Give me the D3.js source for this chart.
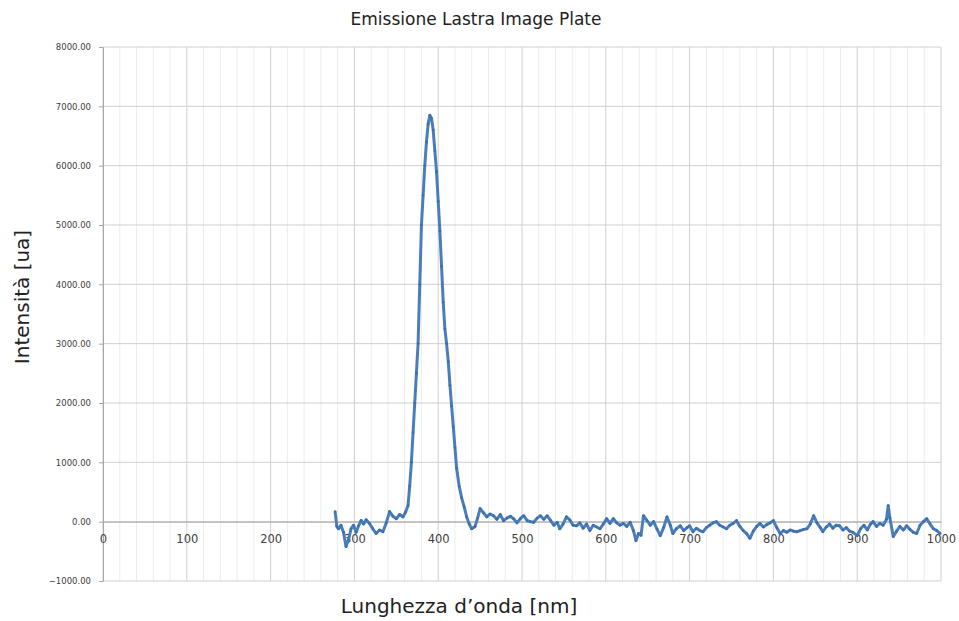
<!DOCTYPE html>
<html>
<head>
<meta charset="utf-8">
<script src="https://cdn.jsdelivr.net/npm/d3@7"></script>
<style>
  body { margin: 0; background: #fff; }
  text { font-family: "DejaVu Sans", sans-serif; }
  .grid-minor line { stroke: #ececec; }
  .grid-major line { stroke: #cfcfcf; }
  .axis path, .axis line { stroke: #a6a6a6; }
  .axis text { fill: #404040; }
</style>
</head>
<body>
<div id="chart"></div>
<script>
var W = 959, H = 621;
var margin = {top: 47, right: 18, bottom: 40, left: 103};

// wavelength [nm], 10 per row
var wavelength = [
  277, 279, 281, 284, 287, 290, 293, 296, 299, 302,
  305, 308, 311, 314, 318, 322, 326, 330, 334, 338,
  342, 346, 350, 354, 358, 361, 364, 366, 368, 370,
  372, 374, 376, 378, 380, 382, 384, 386, 388, 390,
  392, 394, 396, 398, 400, 402, 404, 406, 408, 410,
  412, 414, 416, 418, 420, 422, 425, 428, 431, 434,
  437, 440, 444, 447, 450, 454, 458, 462, 466, 470,
  474, 478, 482, 486, 490, 494, 498, 502, 506, 510,
  514, 518, 522, 526, 530, 534, 538, 542, 545, 549,
  553, 557, 561, 565, 569, 573, 577, 581, 585, 589,
  593, 597, 601, 605, 609, 613, 617, 621, 625, 629,
  633, 636, 639, 642, 645, 649, 653, 657, 661, 665,
  669, 673, 677, 680, 684, 689, 693, 697, 700, 704,
  708, 712, 716, 720, 724, 728, 732, 736, 740, 744,
  748, 752, 756, 760, 764, 768, 772, 776, 780, 784,
  788, 792, 796, 800, 804, 808, 812, 816, 820, 824,
  828, 832, 836, 840, 844, 848, 852, 856, 859, 863,
  867, 871, 875, 879, 883, 887, 891, 895, 900, 904,
  908, 912, 916, 919, 923, 927, 931, 935, 937, 939,
  943, 947, 951, 955, 959, 963, 967, 971, 975, 979,
  983, 987, 991, 995, 999
];
// intensity [ua], 10 per row
var intensity = [
  170, -80, -120, -60, -180, -420, -300, -120, -60, -180,
  -70, 20, -40, 30, -30, -120, -200, -140, -170, -20,
  170, 90, 50, 120, 80, 160, 270, 600, 1000, 1500,
  2000, 2500, 3000, 4000, 5000, 5500, 6000, 6400, 6700, 6850,
  6800, 6600, 6250, 5900, 5400, 4900, 4300, 3700, 3250, 3000,
  2700, 2300, 1950, 1600, 1250, 900, 600, 400, 250, 80,
  -40, -120, -80, 60, 220, 150, 80, 130, 100, 40,
  120, 17, 60, 90, 50, -20, 50, 100, 20, 0,
  -10, 60, 100, 40, 100, 20, -60, -10, -120, -40,
  80, 30, -60, -70, -20, -110, -40, -150, -60, -90,
  -120, -40, 50, -30, 50, -20, -60, -30, -80, -10,
  -150, -320, -200, -230, 100, 20, -60, 0, -120, -235,
  -100, 80, -60, -200, -120, -70, -150, -100, -70, -170,
  -110, -150, -170, -100, -60, -20, 0, -60, -90, -120,
  -60, -30, 17, -80, -150, -200, -280, -160, -80, -30,
  -90, -50, -20, 17, -100, -200, -150, -180, -140, -160,
  -170, -150, -130, -120, -40, 100, -20, -100, -170, -90,
  -40, -110, -60, -70, -140, -100, -160, -180, -235, -120,
  -60, -140, -40, 0, -80, -30, -60, 40, 270, 60,
  -250, -160, -80, -140, -70, -130, -180, -200, -60, 0,
  50, -40, -120, -150, -200
];

var xTicks = [0, 100, 200, 300, 400, 500, 600, 700, 800, 900, 1000];
var yTicks = [-1000, 0, 1000, 2000, 3000, 4000, 5000, 6000, 7000, 8000];

var series = wavelength.map(function(w, i) { return {w: w, v: intensity[i]}; });

var svg = d3.select("#chart").append("svg")
  .attr("width", W)
  .attr("height", H);

var x = d3.scaleLinear().domain([0, 1000]).range([margin.left, W - margin.right]);
var y = d3.scaleLinear().domain([-1000, 8000]).range([H - margin.bottom, margin.top]);

// minor vertical grid every 20 nm
svg.append("g").attr("class", "grid-minor")
  .selectAll("line")
  .data(d3.range(0, 1001, 20).filter(function(d) { return d % 100 !== 0; }))
  .enter().append("line")
  .attr("x1", function(d) { return x(d); })
  .attr("x2", function(d) { return x(d); })
  .attr("y1", y(8000))
  .attr("y2", y(-1000));

// major grid
var gMaj = svg.append("g").attr("class", "grid-major");
gMaj.selectAll(".vx")
  .data(xTicks)
  .enter().append("line")
  .attr("class", "vx")
  .attr("x1", function(d) { return x(d); })
  .attr("x2", function(d) { return x(d); })
  .attr("y1", y(8000))
  .attr("y2", y(-1000));
gMaj.selectAll(".hy")
  .data(yTicks)
  .enter().append("line")
  .attr("class", "hy")
  .attr("x1", x(0))
  .attr("x2", x(1000))
  .attr("y1", function(d) { return y(d); })
  .attr("y2", function(d) { return y(d); });

// y axis
var yAxis = d3.axisLeft(y)
  .tickValues(yTicks)
  .tickFormat(d3.format(".2f"))
  .tickSizeInner(4)
  .tickSizeOuter(0)
  .tickPadding(8);
var gy = svg.append("g")
  .attr("class", "axis")
  .attr("transform", "translate(" + x(0) + ",0)")
  .call(yAxis);
gy.selectAll("text").style("font-size", "8.5px");

// x axis on the zero line
var xAxis = d3.axisBottom(x)
  .tickValues(xTicks)
  .tickFormat(d3.format("d"))
  .tickSizeInner(0)
  .tickSizeOuter(0)
  .tickPadding(13);
var gx = svg.append("g")
  .attr("class", "axis")
  .attr("transform", "translate(0," + y(0) + ")")
  .call(xAxis);
gx.selectAll("text").style("font-size", "11.5px");

// data line
var line = d3.line()
  .x(function(d) { return x(d.w); })
  .y(function(d) { return y(d.v); });

svg.append("path")
  .datum(series)
  .attr("d", line)
  .attr("fill", "none")
  .attr("stroke", "#4a7ebb")
  .attr("stroke-width", 3)
  .attr("stroke-linejoin", "round");

svg.append("g")
  .selectAll("circle")
  .data(series)
  .enter().append("circle")
  .attr("cx", function(d) { return x(d.w); })
  .attr("cy", function(d) { return y(d.v); })
  .attr("r", 1.3)
  .attr("fill", "#3c6ea8");

// titles
svg.append("text")
  .attr("x", 476)
  .attr("y", 25)
  .attr("text-anchor", "middle")
  .style("font-size", "17px")
  .style("fill", "#222")
  .text("Emissione Lastra Image Plate");

svg.append("text")
  .attr("transform", "translate(29,297) rotate(-90)")
  .attr("text-anchor", "middle")
  .style("font-size", "20px")
  .style("fill", "#222")
  .text("Intensità [ua]");

svg.append("text")
  .attr("x", 459)
  .attr("y", 613)
  .attr("text-anchor", "middle")
  .style("font-size", "20px")
  .style("fill", "#222")
  .text("Lunghezza d’onda [nm]");
</script>
</body>
</html>
